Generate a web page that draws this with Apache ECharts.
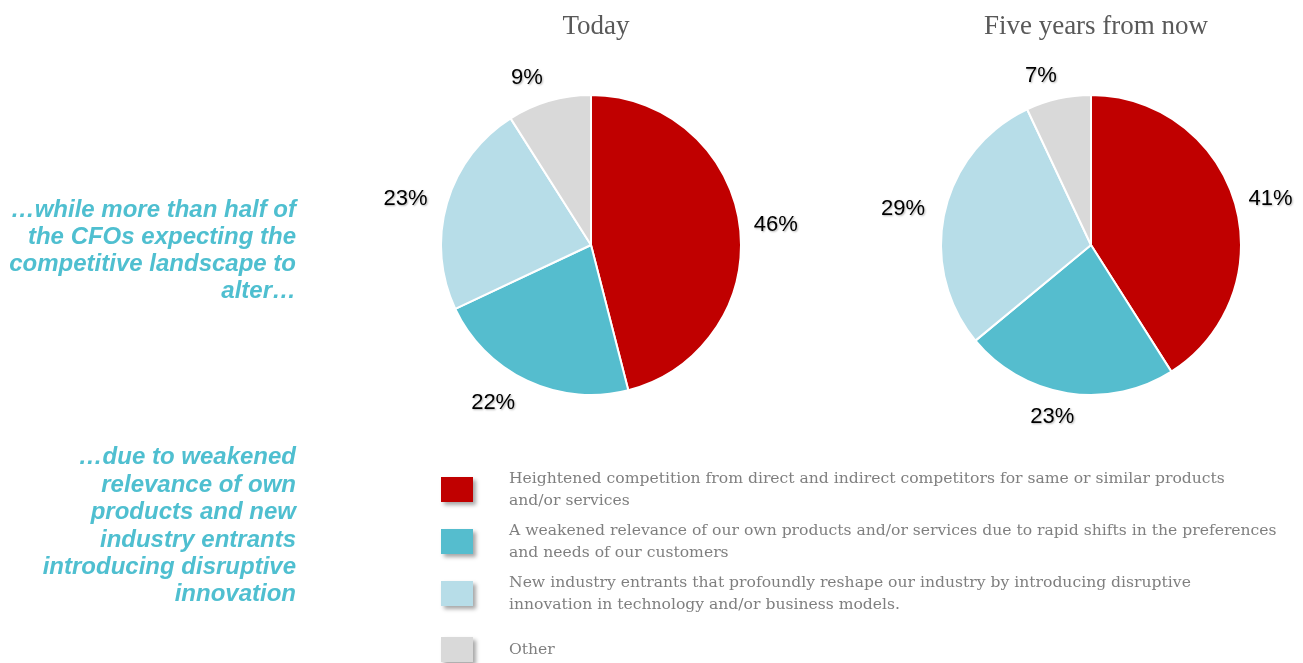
<!DOCTYPE html>
<html>
<head>
<meta charset="utf-8">
<script src="https://cdn.jsdelivr.net/npm/echarts@6/dist/echarts.min.js"></script>
<style>
html,body{margin:0;padding:0;background:#fff;}
#chart{width:1303px;height:663px;}
</style>
</head>
<body>
<div id="chart"></div>
<script>
const categories = [
  'Heightened competition from direct and indirect competitors for same or similar products\nand/or services',
  'A weakened relevance of our own products and/or services due to rapid shifts in the preferences\nand needs of our customers',
  'New industry entrants that profoundly reshape our industry by introducing disruptive\ninnovation in technology and/or business models.',
  'Other'
];
const todayValues = [46, 22, 23, 9];
const fiveYearValues = [41, 23, 29, 7];
const pieTitles = ['Today', 'Five years from now'];
const sideText1 = '\u2026while more than half of\nthe CFOs expecting the\ncompetitive landscape to\nalter\u2026';
const sideText2 = '\u2026due to weakened\nrelevance of own\nproducts and new\nindustry entrants\nintroducing disruptive\ninnovation';

const colors = ['#C00000', '#55BDCE', '#B7DDE8', '#D9D9D9'];
const centers = [[591, 245], [1091, 245]];
const R = 150;

function makeLabelLayout(values, cx, cy, r) {
  const total = values.reduce((a, b) => a + b, 0);
  return function (p) {
    let before = 0;
    for (let i = 0; i < p.dataIndex; i++) before += values[i];
    const mid = (before + values[p.dataIndex] / 2) / total * Math.PI * 2;
    const dx = Math.sin(mid), dy = -Math.cos(mid);
    const w = p.labelRect.width, hh = 9.5;
    const ax = cx + dx * (r + 14), ay = cy + dy * (r + 14);
    const sx = Math.min(1, Math.abs(dx) * 3);
    const sy = Math.max(0, Math.min(1, (Math.abs(dy) - 0.3) * 3));
    const ox = dx >= 0 ? sx * w / 2 : -sx * (w / 2 + 6);
    const oy = Math.sign(dy) * sy * hh;
    return { x: ax + ox, y: ay + oy, align: 'center', verticalAlign: 'middle' };
  };
}

function makeSeries(values, idx) {
  return {
    type: 'pie',
    center: centers[idx],
    radius: [0, R],
    startAngle: 90,
    clockwise: true,
    silent: true,
    data: categories.map((c, i) => ({ name: c, value: values[i] })),
    itemStyle: { borderColor: '#ffffff', borderWidth: 2 },
    label: {
      show: true,
      position: 'outside',
      formatter: '{c}%',
      overflow: 'none',
      fontFamily: 'Liberation Sans, Arial, sans-serif',
      fontSize: 22,
      color: '#000000',
      textShadowColor: 'rgba(0,0,0,0.3)',
      textShadowBlur: 2,
      textShadowOffsetX: 1,
      textShadowOffsetY: 1
    },
    labelLine: { show: false, length: 10, length2: 0 },
    labelLayout: makeLabelLayout(values, centers[idx][0], centers[idx][1], R),
    emphasis: { disabled: true }
  };
}

const chart = echarts.init(document.getElementById('chart'), null, { renderer: 'canvas' });
const legendFont = 'DejaVu Serif, serif';
const legendCommon = {
  orient: 'vertical',
  left: 441,
  padding: 0,
  icon: 'rect',
  itemWidth: 32,
  itemHeight: 25,
  selectedMode: false,
  itemStyle: {
    borderWidth: 0,
    shadowBlur: 4,
    shadowOffsetX: 3,
    shadowOffsetY: 3,
    shadowColor: 'rgba(0,0,0,0.35)'
  }
};
chart.setOption({
  animation: false,
  color: colors,
  title: pieTitles.map((t, i) => ({
    text: t,
    left: centers[i][0],
    top: 8,
    textAlign: 'center',
    textStyle: {
      fontFamily: 'Liberation Serif, serif',
      fontSize: 27,
      fontWeight: 'normal',
      color: '#595959'
    }
  })),
  legend: [
    Object.assign({}, legendCommon, {
      top: 464,
      itemGap: 1,
      data: categories.slice(0, 3),
      textStyle: {
        fontFamily: legendFont,
        fontSize: 15.6,
        color: '#7F7F7F',
        lineHeight: 22,
        padding: [7, 0, 0, 31]
      }
    }),
    Object.assign({}, legendCommon, {
      top: 637,
      data: categories.slice(3),
      textStyle: {
        fontFamily: legendFont,
        fontSize: 15.6,
        color: '#7F7F7F',
        lineHeight: 22,
        padding: [2, 0, 0, 31]
      }
    })
  ],
  graphic: [
    {
      type: 'text', x: 296, y: 197,
      style: {
        text: sideText1, align: 'right', verticalAlign: 'top',
        font: 'italic bold 24px "Liberation Sans", Arial, sans-serif',
        lineHeight: 27, fill: '#4FBFD0'
      }
    },
    {
      type: 'text', x: 296, y: 444,
      style: {
        text: sideText2, align: 'right', verticalAlign: 'top',
        font: 'italic bold 24px "Liberation Sans", Arial, sans-serif',
        lineHeight: 27.4, fill: '#4FBFD0'
      }
    }
  ],
  series: [makeSeries(todayValues, 0), makeSeries(fiveYearValues, 1)]
});
</script>
</body>
</html>
